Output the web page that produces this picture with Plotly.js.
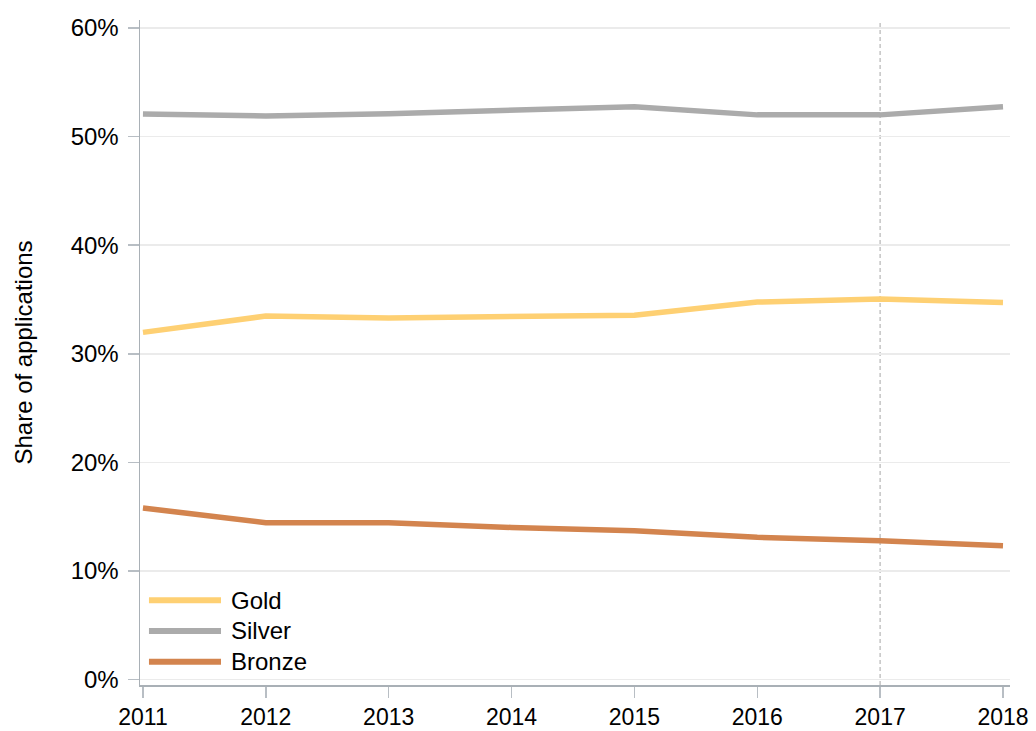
<!DOCTYPE html>
<html>
<head>
<meta charset="utf-8">
<script src="https://cdn.plot.ly/plotly-3.0.1.min.js"></script>
<style>
html,body{margin:0;padding:0;background:#fff;}
#chart{width:1036px;height:731px;}
</style>
</head>
<body>
<div id="chart"></div>
<script>
var years = [2011, 2012, 2013, 2014, 2015, 2016, 2017, 2018];
var seriesNames = ['Gold', 'Silver', 'Bronze'];
var gold   = [31.97, 33.47, 33.3, 33.47, 33.55, 34.76, 35.05, 34.73];
var silver = [52.07, 51.9, 52.1, 52.42, 52.75, 52.0, 52.0, 52.75];
var bronze = [15.8, 14.44, 14.44, 14.0, 13.7, 13.1, 12.78, 12.32];
var seriesValues = [gold, silver, bronze];
var seriesColors = ['#FED073', '#ABABAB', '#D3844E'];
var yTickVals = [0, 10, 20, 30, 40, 50, 60];
var yTickText = ['0%', '10%', '20%', '30%', '40%', '50%', '60%'];
var xTickText = ['2011', '2012', '2013', '2014', '2015', '2016', '2017', '2018'];
var markerYear = 2017;
var yTitle = 'Share of applications';

var FONT = 'Liberation Sans, Arial, Helvetica, sans-serif';

var traces = seriesNames.map(function (name, i) {
  return {
    x: years,
    y: seriesValues[i],
    name: name,
    type: 'scatter',
    mode: 'lines',
    line: {color: seriesColors[i], width: 5.5},
    showlegend: false,
    hoverinfo: 'x+y+name'
  };
});

// custom legend (long line samples like the reference)
var shapes = [{
  type: 'line', xref: 'x', yref: 'paper',
  x0: markerYear, x1: markerYear, y0: 0, y1: 1,
  line: {color: '#c4c4c4', width: 1.5, dash: '4px,3px'},
  layer: 'below'
}];
var annotations = [];
var legTop = 0.1275, legStep = 0.0462;
seriesNames.forEach(function (name, i) {
  var yy = legTop - i * legStep;
  shapes.push({
    type: 'line', xref: 'paper', yref: 'paper',
    x0: 0.0103, x1: 0.0931, y0: yy, y1: yy,
    line: {color: seriesColors[i], width: 6}
  });
  annotations.push({
    xref: 'paper', yref: 'paper', x: 0.1025, y: yy,
    xanchor: 'left', yanchor: 'middle', showarrow: false,
    text: name, font: {family: FONT, size: 24, color: '#000'}
  });
});

var layout = {
  width: 1036, height: 731,
  margin: {l: 140, r: 26, t: 20, b: 46, pad: 0},
  paper_bgcolor: '#fff', plot_bgcolor: '#fff',
  font: {family: FONT, size: 24, color: '#000'},
  xaxis: {
    range: [2010.976, 2018.057],
    tickvals: years,
    ticktext: xTickText,
    showgrid: false, zeroline: false,
    showline: true, linecolor: '#a9b0b6', linewidth: 1.5,
    ticks: 'outside', ticklen: 11, tickwidth: 1.5, tickcolor: '#b8bec4',
    ticklabelstandoff: 0,
    tickfont: {family: FONT, size: 23, color: '#000'},
    fixedrange: true
  },
  yaxis: {
    range: [-0.507, 60.737],
    tickvals: yTickVals,
    ticktext: yTickText,
    showgrid: true, gridcolor: '#ebebeb', gridwidth: 1.5,
    zeroline: false,
    showline: true, linecolor: '#a9b0b6', linewidth: 1.5,
    ticks: 'outside', ticklen: 11, tickwidth: 1.5, tickcolor: '#b8bec4',
    ticklabelstandoff: 4,
    tickfont: {family: FONT, size: 24, color: '#000'},
    title: {text: yTitle, font: {family: FONT, size: 24, color: '#000'}, standoff: 31},
    fixedrange: true
  },
  shapes: shapes,
  annotations: annotations,
  showlegend: false
};

Plotly.newPlot('chart', traces, layout, {displayModeBar: false, staticPlot: true});
</script>
</body>
</html>
